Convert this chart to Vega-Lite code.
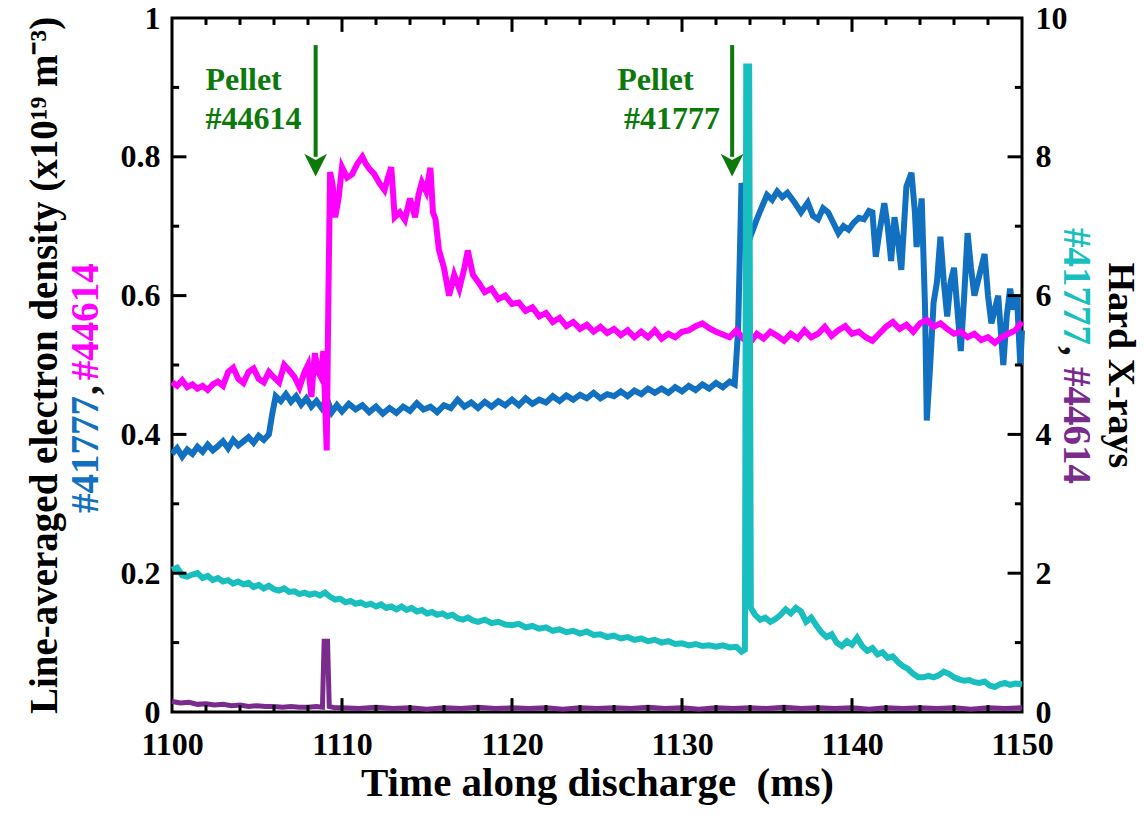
{
"$schema":"https://vega.github.io/schema/vega-lite/v6.json",
"width":850,"height":694,
"autosize":{"type":"none"},
"padding":{"left":172,"top":18,"right":123,"bottom":102},
"background":"white",
"config":{"view":{"stroke":"black","strokeWidth":3},"font":"Liberation Serif",
"axis":{"grid":false,"domain":false,"ticks":false,"tickSize":0,"labelFont":"Liberation Serif","labelFontWeight":"bold","labelFontSize":32,"labelColor":"black","titleFont":"Liberation Serif","titleFontWeight":"bold","titleColor":"black","labelFlush":false,"labelOverlap":false}},
"datasets":{
"blue":[
{"t":1100.0,"v":0.372},{"t":1100.3,"v":0.38},{"t":1100.6,"v":0.368},{"t":1100.9,"v":0.378},{"t":1101.2,"v":0.372},{"t":1101.5,"v":0.382},{"t":1101.8,"v":0.375},{"t":1102.1,"v":0.385},{"t":1102.4,"v":0.377},{"t":1102.7,"v":0.383},{"t":1103.0,"v":0.39},{"t":1103.3,"v":0.38},{"t":1103.6,"v":0.392},{"t":1103.9,"v":0.384},{"t":1104.2,"v":0.39},{"t":1104.5,"v":0.396},{"t":1104.8,"v":0.388},{"t":1105.1,"v":0.398},{"t":1105.4,"v":0.392},{"t":1105.7,"v":0.4},{"t":1105.9,"v":0.43},{"t":1106.1,"v":0.455},{"t":1106.4,"v":0.448},{"t":1106.7,"v":0.458},{"t":1107.0,"v":0.447},{"t":1107.3,"v":0.455},{"t":1107.6,"v":0.443},{"t":1107.9,"v":0.452},{"t":1108.2,"v":0.44},{"t":1108.5,"v":0.448},{"t":1108.8,"v":0.438},{"t":1109.1,"v":0.452},{"t":1109.4,"v":0.432},{"t":1109.7,"v":0.442},{"t":1110.0,"v":0.433},{"t":1110.4,"v":0.444},{"t":1110.8,"v":0.436},{"t":1111.2,"v":0.442},{"t":1111.6,"v":0.432},{"t":1112.0,"v":0.44},{"t":1112.4,"v":0.43},{"t":1112.8,"v":0.438},{"t":1113.2,"v":0.431},{"t":1113.6,"v":0.44},{"t":1114.0,"v":0.434},{"t":1114.4,"v":0.445},{"t":1114.8,"v":0.436},{"t":1115.2,"v":0.44},{"t":1115.6,"v":0.432},{"t":1116.0,"v":0.442},{"t":1116.4,"v":0.438},{"t":1116.8,"v":0.45},{"t":1117.2,"v":0.44},{"t":1117.6,"v":0.446},{"t":1118.0,"v":0.438},{"t":1118.4,"v":0.447},{"t":1118.8,"v":0.44},{"t":1119.2,"v":0.448},{"t":1119.6,"v":0.442},{"t":1120.0,"v":0.45},{"t":1120.4,"v":0.442},{"t":1120.8,"v":0.452},{"t":1121.2,"v":0.444},{"t":1121.6,"v":0.45},{"t":1122.0,"v":0.446},{"t":1122.4,"v":0.455},{"t":1122.8,"v":0.448},{"t":1123.2,"v":0.456},{"t":1123.6,"v":0.45},{"t":1124.0,"v":0.457},{"t":1124.4,"v":0.452},{"t":1124.8,"v":0.46},{"t":1125.2,"v":0.452},{"t":1125.6,"v":0.458},{"t":1126.0,"v":0.455},{"t":1126.4,"v":0.462},{"t":1126.8,"v":0.455},{"t":1127.2,"v":0.463},{"t":1127.6,"v":0.458},{"t":1128.0,"v":0.466},{"t":1128.4,"v":0.46},{"t":1128.8,"v":0.466},{"t":1129.2,"v":0.46},{"t":1129.6,"v":0.468},{"t":1130.0,"v":0.462},{"t":1130.4,"v":0.47},{"t":1130.8,"v":0.464},{"t":1131.2,"v":0.472},{"t":1131.6,"v":0.466},{"t":1132.0,"v":0.474},{"t":1132.4,"v":0.468},{"t":1132.8,"v":0.476},{"t":1133.1,"v":0.472},{"t":1133.3,"v":0.55},{"t":1133.5,"v":0.762},{"t":1133.7,"v":0.74},{"t":1133.9,"v":0.7},{"t":1134.1,"v":0.69},{"t":1134.4,"v":0.71},{"t":1134.7,"v":0.728},{"t":1135.0,"v":0.745},{"t":1135.3,"v":0.738},{"t":1135.6,"v":0.75},{"t":1135.9,"v":0.742},{"t":1136.2,"v":0.748},{"t":1136.6,"v":0.735},{"t":1137.0,"v":0.72},{"t":1137.4,"v":0.734},{"t":1137.7,"v":0.715},{"t":1138.0,"v":0.71},{"t":1138.3,"v":0.726},{"t":1138.6,"v":0.72},{"t":1138.9,"v":0.705},{"t":1139.2,"v":0.69},{"t":1139.5,"v":0.7},{"t":1139.8,"v":0.695},{"t":1140.1,"v":0.705},{"t":1140.4,"v":0.712},{"t":1140.7,"v":0.71},{"t":1141.0,"v":0.722},{"t":1141.2,"v":0.72},{"t":1141.4,"v":0.656},{"t":1141.6,"v":0.69},{"t":1141.9,"v":0.733},{"t":1142.1,"v":0.7},{"t":1142.3,"v":0.65},{"t":1142.5,"v":0.713},{"t":1142.7,"v":0.68},{"t":1142.9,"v":0.637},{"t":1143.2,"v":0.757},{"t":1143.5,"v":0.777},{"t":1143.7,"v":0.72},{"t":1143.8,"v":0.67},{"t":1144.1,"v":0.74},{"t":1144.3,"v":0.58},{"t":1144.4,"v":0.42},{"t":1144.6,"v":0.5},{"t":1144.8,"v":0.59},{"t":1145.0,"v":0.62},{"t":1145.2,"v":0.685},{"t":1145.4,"v":0.62},{"t":1145.6,"v":0.57},{"t":1145.8,"v":0.62},{"t":1146.0,"v":0.64},{"t":1146.2,"v":0.58},{"t":1146.4,"v":0.52},{"t":1146.6,"v":0.6},{"t":1146.8,"v":0.69},{"t":1147.0,"v":0.64},{"t":1147.2,"v":0.6},{"t":1147.5,"v":0.63},{"t":1147.8,"v":0.66},{"t":1148.0,"v":0.6},{"t":1148.2,"v":0.56},{"t":1148.4,"v":0.58},{"t":1148.6,"v":0.6},{"t":1148.9,"v":0.5},{"t":1149.1,"v":0.57},{"t":1149.3,"v":0.61},{"t":1149.5,"v":0.58},{"t":1149.7,"v":0.6},{"t":1149.9,"v":0.5},{"t":1150.0,"v":0.55}
],
"magenta":[
{"t":1100.0,"v":0.475},{"t":1100.3,"v":0.47},{"t":1100.6,"v":0.478},{"t":1100.9,"v":0.468},{"t":1101.2,"v":0.472},{"t":1101.5,"v":0.466},{"t":1101.8,"v":0.47},{"t":1102.1,"v":0.464},{"t":1102.4,"v":0.472},{"t":1102.7,"v":0.476},{"t":1103.0,"v":0.47},{"t":1103.3,"v":0.49},{"t":1103.6,"v":0.496},{"t":1103.9,"v":0.48},{"t":1104.2,"v":0.474},{"t":1104.5,"v":0.49},{"t":1104.8,"v":0.495},{"t":1105.1,"v":0.48},{"t":1105.4,"v":0.475},{"t":1105.7,"v":0.49},{"t":1106.0,"v":0.482},{"t":1106.3,"v":0.475},{"t":1106.6,"v":0.5},{"t":1106.9,"v":0.492},{"t":1107.2,"v":0.483},{"t":1107.5,"v":0.468},{"t":1107.8,"v":0.49},{"t":1108.0,"v":0.5},{"t":1108.2,"v":0.454},{"t":1108.4,"v":0.517},{"t":1108.6,"v":0.49},{"t":1108.75,"v":0.483},{"t":1108.9,"v":0.52},{"t":1109.0,"v":0.45},{"t":1109.1,"v":0.377},{"t":1109.2,"v":0.6},{"t":1109.3,"v":0.778},{"t":1109.45,"v":0.76},{"t":1109.6,"v":0.713},{"t":1109.8,"v":0.74},{"t":1110.0,"v":0.785},{"t":1110.3,"v":0.77},{"t":1110.6,"v":0.775},{"t":1110.9,"v":0.79},{"t":1111.2,"v":0.8},{"t":1111.4,"v":0.79},{"t":1111.6,"v":0.783},{"t":1111.9,"v":0.775},{"t":1112.2,"v":0.762},{"t":1112.5,"v":0.752},{"t":1112.7,"v":0.77},{"t":1112.9,"v":0.785},{"t":1113.1,"v":0.713},{"t":1113.4,"v":0.72},{"t":1113.7,"v":0.709},{"t":1114.0,"v":0.74},{"t":1114.3,"v":0.713},{"t":1114.5,"v":0.745},{"t":1114.7,"v":0.763},{"t":1114.95,"v":0.75},{"t":1115.2,"v":0.784},{"t":1115.35,"v":0.72},{"t":1115.5,"v":0.71},{"t":1115.7,"v":0.666},{"t":1116.0,"v":0.64},{"t":1116.3,"v":0.6},{"t":1116.6,"v":0.63},{"t":1116.9,"v":0.61},{"t":1117.2,"v":0.64},{"t":1117.4,"v":0.665},{"t":1117.7,"v":0.63},{"t":1118.0,"v":0.62},{"t":1118.4,"v":0.605},{"t":1118.8,"v":0.61},{"t":1119.2,"v":0.595},{"t":1119.6,"v":0.6},{"t":1120.0,"v":0.588},{"t":1120.4,"v":0.59},{"t":1120.8,"v":0.578},{"t":1121.2,"v":0.583},{"t":1121.6,"v":0.57},{"t":1122.0,"v":0.575},{"t":1122.4,"v":0.562},{"t":1122.8,"v":0.568},{"t":1123.2,"v":0.556},{"t":1123.6,"v":0.562},{"t":1124.0,"v":0.552},{"t":1124.4,"v":0.558},{"t":1124.8,"v":0.548},{"t":1125.2,"v":0.555},{"t":1125.6,"v":0.546},{"t":1126.0,"v":0.552},{"t":1126.4,"v":0.543},{"t":1126.8,"v":0.55},{"t":1127.2,"v":0.54},{"t":1127.6,"v":0.548},{"t":1128.0,"v":0.54},{"t":1128.4,"v":0.55},{"t":1128.8,"v":0.538},{"t":1129.2,"v":0.545},{"t":1129.6,"v":0.54},{"t":1130.0,"v":0.548},{"t":1130.4,"v":0.55},{"t":1130.8,"v":0.556},{"t":1131.2,"v":0.56},{"t":1131.6,"v":0.553},{"t":1132.0,"v":0.548},{"t":1132.4,"v":0.544},{"t":1132.8,"v":0.54},{"t":1133.2,"v":0.55},{"t":1133.6,"v":0.538},{"t":1134.0,"v":0.532},{"t":1134.4,"v":0.545},{"t":1134.8,"v":0.538},{"t":1135.2,"v":0.548},{"t":1135.6,"v":0.542},{"t":1136.0,"v":0.535},{"t":1136.4,"v":0.545},{"t":1136.8,"v":0.538},{"t":1137.2,"v":0.55},{"t":1137.6,"v":0.54},{"t":1138.0,"v":0.545},{"t":1138.4,"v":0.555},{"t":1138.8,"v":0.542},{"t":1139.2,"v":0.55},{"t":1139.6,"v":0.556},{"t":1140.0,"v":0.545},{"t":1140.4,"v":0.548},{"t":1140.8,"v":0.54},{"t":1141.2,"v":0.535},{"t":1141.6,"v":0.545},{"t":1142.0,"v":0.555},{"t":1142.4,"v":0.562},{"t":1142.8,"v":0.552},{"t":1143.2,"v":0.558},{"t":1143.6,"v":0.548},{"t":1144.0,"v":0.56},{"t":1144.4,"v":0.565},{"t":1144.8,"v":0.555},{"t":1145.2,"v":0.56},{"t":1145.6,"v":0.552},{"t":1146.0,"v":0.545},{"t":1146.4,"v":0.548},{"t":1146.8,"v":0.54},{"t":1147.2,"v":0.545},{"t":1147.6,"v":0.536},{"t":1148.0,"v":0.54},{"t":1148.4,"v":0.532},{"t":1148.8,"v":0.54},{"t":1149.2,"v":0.545},{"t":1149.6,"v":0.55},{"t":1150.0,"v":0.562}
],
"cyan":[
{"t":1100.0,"v":2.05},{"t":1100.3,"v":2.08},{"t":1100.6,"v":1.97},{"t":1100.9,"v":1.95},{"t":1101.2,"v":1.98},{"t":1101.5,"v":2.0},{"t":1101.8,"v":1.93},{"t":1102.1,"v":1.96},{"t":1102.4,"v":1.9},{"t":1102.7,"v":1.93},{"t":1103.0,"v":1.88},{"t":1103.3,"v":1.9},{"t":1103.6,"v":1.85},{"t":1103.9,"v":1.88},{"t":1104.2,"v":1.84},{"t":1104.5,"v":1.86},{"t":1104.8,"v":1.8},{"t":1105.1,"v":1.83},{"t":1105.4,"v":1.78},{"t":1105.7,"v":1.82},{"t":1106.0,"v":1.77},{"t":1106.3,"v":1.75},{"t":1106.6,"v":1.78},{"t":1106.9,"v":1.73},{"t":1107.2,"v":1.74},{"t":1107.5,"v":1.7},{"t":1107.8,"v":1.72},{"t":1108.1,"v":1.69},{"t":1108.4,"v":1.71},{"t":1108.7,"v":1.68},{"t":1109.0,"v":1.72},{"t":1109.3,"v":1.66},{"t":1109.6,"v":1.62},{"t":1109.9,"v":1.63},{"t":1110.2,"v":1.58},{"t":1110.5,"v":1.6},{"t":1110.8,"v":1.56},{"t":1111.1,"v":1.58},{"t":1111.4,"v":1.54},{"t":1111.7,"v":1.56},{"t":1112.0,"v":1.52},{"t":1112.3,"v":1.55},{"t":1112.6,"v":1.5},{"t":1112.9,"v":1.52},{"t":1113.2,"v":1.48},{"t":1113.5,"v":1.52},{"t":1113.8,"v":1.47},{"t":1114.1,"v":1.5},{"t":1114.4,"v":1.45},{"t":1114.7,"v":1.47},{"t":1115.0,"v":1.42},{"t":1115.3,"v":1.44},{"t":1115.6,"v":1.4},{"t":1115.9,"v":1.42},{"t":1116.2,"v":1.38},{"t":1116.5,"v":1.4},{"t":1116.8,"v":1.35},{"t":1117.1,"v":1.33},{"t":1117.4,"v":1.36},{"t":1117.7,"v":1.32},{"t":1118.0,"v":1.3},{"t":1118.4,"v":1.33},{"t":1118.8,"v":1.28},{"t":1119.2,"v":1.3},{"t":1119.6,"v":1.26},{"t":1120.0,"v":1.25},{"t":1120.4,"v":1.27},{"t":1120.8,"v":1.22},{"t":1121.2,"v":1.24},{"t":1121.6,"v":1.2},{"t":1122.0,"v":1.22},{"t":1122.4,"v":1.17},{"t":1122.8,"v":1.19},{"t":1123.2,"v":1.15},{"t":1123.6,"v":1.17},{"t":1124.0,"v":1.13},{"t":1124.4,"v":1.16},{"t":1124.8,"v":1.11},{"t":1125.2,"v":1.12},{"t":1125.6,"v":1.08},{"t":1126.0,"v":1.1},{"t":1126.4,"v":1.06},{"t":1126.8,"v":1.08},{"t":1127.2,"v":1.04},{"t":1127.6,"v":1.06},{"t":1128.0,"v":1.02},{"t":1128.4,"v":1.04},{"t":1128.8,"v":1.0},{"t":1129.2,"v":1.02},{"t":1129.6,"v":0.98},{"t":1130.0,"v":0.99},{"t":1130.4,"v":0.96},{"t":1130.8,"v":0.98},{"t":1131.2,"v":0.95},{"t":1131.6,"v":0.96},{"t":1132.0,"v":0.94},{"t":1132.4,"v":0.96},{"t":1132.8,"v":0.93},{"t":1133.2,"v":0.94},{"t":1133.5,"v":0.87},{"t":1133.7,"v":0.9},{"t":1133.78,"v":9.3},{"t":1133.95,"v":9.3},{"t":1134.05,"v":1.5},{"t":1134.3,"v":1.4},{"t":1134.6,"v":1.33},{"t":1134.9,"v":1.36},{"t":1135.2,"v":1.3},{"t":1135.5,"v":1.34},{"t":1135.8,"v":1.4},{"t":1136.1,"v":1.48},{"t":1136.4,"v":1.42},{"t":1136.7,"v":1.5},{"t":1137.0,"v":1.45},{"t":1137.3,"v":1.3},{"t":1137.6,"v":1.36},{"t":1137.9,"v":1.25},{"t":1138.2,"v":1.15},{"t":1138.5,"v":1.08},{"t":1138.8,"v":1.12},{"t":1139.1,"v":1.0},{"t":1139.4,"v":0.95},{"t":1139.7,"v":1.02},{"t":1140.0,"v":0.97},{"t":1140.3,"v":1.07},{"t":1140.6,"v":0.95},{"t":1140.9,"v":0.88},{"t":1141.2,"v":0.92},{"t":1141.5,"v":0.83},{"t":1141.8,"v":0.86},{"t":1142.1,"v":0.78},{"t":1142.4,"v":0.8},{"t":1142.7,"v":0.72},{"t":1143.0,"v":0.66},{"t":1143.3,"v":0.62},{"t":1143.6,"v":0.55},{"t":1143.9,"v":0.5},{"t":1144.2,"v":0.5},{"t":1144.5,"v":0.52},{"t":1144.8,"v":0.5},{"t":1145.1,"v":0.53},{"t":1145.4,"v":0.58},{"t":1145.7,"v":0.55},{"t":1146.0,"v":0.5},{"t":1146.3,"v":0.47},{"t":1146.6,"v":0.45},{"t":1146.9,"v":0.46},{"t":1147.2,"v":0.43},{"t":1147.5,"v":0.42},{"t":1147.8,"v":0.44},{"t":1148.1,"v":0.38},{"t":1148.4,"v":0.36},{"t":1148.7,"v":0.4},{"t":1149.0,"v":0.42},{"t":1149.3,"v":0.39},{"t":1149.6,"v":0.41},{"t":1150.0,"v":0.4}
],
"purple":[
{"t":1100.0,"v":0.15},{"t":1100.5,"v":0.13},{"t":1101.0,"v":0.14},{"t":1101.5,"v":0.11},{"t":1102.0,"v":0.12},{"t":1102.5,"v":0.1},{"t":1103.0,"v":0.11},{"t":1103.5,"v":0.09},{"t":1104.0,"v":0.1},{"t":1104.5,"v":0.08},{"t":1105.0,"v":0.09},{"t":1105.5,"v":0.08},{"t":1106.0,"v":0.08},{"t":1106.5,"v":0.07},{"t":1107.0,"v":0.08},{"t":1107.5,"v":0.07},{"t":1108.0,"v":0.07},{"t":1108.5,"v":0.08},{"t":1108.85,"v":0.07},{"t":1108.95,"v":1.02},{"t":1109.15,"v":1.02},{"t":1109.25,"v":0.08},{"t":1109.6,"v":0.06},{"t":1110,"v":0.06},{"t":1111,"v":0.05},{"t":1112,"v":0.07},{"t":1113,"v":0.05},{"t":1114,"v":0.06},{"t":1115,"v":0.04},{"t":1116,"v":0.06},{"t":1117,"v":0.05},{"t":1118,"v":0.07},{"t":1119,"v":0.05},{"t":1120,"v":0.06},{"t":1121,"v":0.05},{"t":1122,"v":0.06},{"t":1123,"v":0.04},{"t":1124,"v":0.06},{"t":1125,"v":0.05},{"t":1126,"v":0.06},{"t":1127,"v":0.05},{"t":1128,"v":0.07},{"t":1129,"v":0.05},{"t":1130,"v":0.06},{"t":1131,"v":0.04},{"t":1132,"v":0.06},{"t":1133,"v":0.05},{"t":1134,"v":0.06},{"t":1135,"v":0.05},{"t":1136,"v":0.07},{"t":1137,"v":0.05},{"t":1138,"v":0.06},{"t":1139,"v":0.05},{"t":1140,"v":0.06},{"t":1141,"v":0.04},{"t":1142,"v":0.06},{"t":1143,"v":0.05},{"t":1144,"v":0.06},{"t":1145,"v":0.05},{"t":1146,"v":0.06},{"t":1147,"v":0.04},{"t":1148,"v":0.06},{"t":1149,"v":0.05},{"t":1150,"v":0.06}
],
"xticks":[
{"t":1110,"a":0,"b":0.02},{"t":1120,"a":0,"b":0.02},{"t":1130,"a":0,"b":0.02},{"t":1140,"a":0,"b":0.02},
{"t":1110,"a":1,"b":0.98},{"t":1120,"a":1,"b":0.98},{"t":1130,"a":1,"b":0.98},{"t":1140,"a":1,"b":0.98},
{"t":1102,"a":0,"b":0.01},{"t":1104,"a":0,"b":0.01},{"t":1106,"a":0,"b":0.01},{"t":1108,"a":0,"b":0.01},{"t":1112,"a":0,"b":0.01},{"t":1114,"a":0,"b":0.01},{"t":1116,"a":0,"b":0.01},{"t":1118,"a":0,"b":0.01},{"t":1122,"a":0,"b":0.01},{"t":1124,"a":0,"b":0.01},{"t":1126,"a":0,"b":0.01},{"t":1128,"a":0,"b":0.01},{"t":1132,"a":0,"b":0.01},{"t":1134,"a":0,"b":0.01},{"t":1136,"a":0,"b":0.01},{"t":1138,"a":0,"b":0.01},{"t":1142,"a":0,"b":0.01},{"t":1144,"a":0,"b":0.01},{"t":1146,"a":0,"b":0.01},{"t":1148,"a":0,"b":0.01},
{"t":1102,"a":1,"b":0.99},{"t":1104,"a":1,"b":0.99},{"t":1106,"a":1,"b":0.99},{"t":1108,"a":1,"b":0.99},{"t":1112,"a":1,"b":0.99},{"t":1114,"a":1,"b":0.99},{"t":1116,"a":1,"b":0.99},{"t":1118,"a":1,"b":0.99},{"t":1122,"a":1,"b":0.99},{"t":1124,"a":1,"b":0.99},{"t":1126,"a":1,"b":0.99},{"t":1128,"a":1,"b":0.99},{"t":1132,"a":1,"b":0.99},{"t":1134,"a":1,"b":0.99},{"t":1136,"a":1,"b":0.99},{"t":1138,"a":1,"b":0.99},{"t":1142,"a":1,"b":0.99},{"t":1144,"a":1,"b":0.99},{"t":1146,"a":1,"b":0.99},{"t":1148,"a":1,"b":0.99}
],
"yticks":[
{"v":0.2,"a":1100,"b":1100.85},{"v":0.4,"a":1100,"b":1100.85},{"v":0.6,"a":1100,"b":1100.85},{"v":0.8,"a":1100,"b":1100.85},
{"v":0.2,"a":1150,"b":1149.15},{"v":0.4,"a":1150,"b":1149.15},{"v":0.6,"a":1150,"b":1149.15},{"v":0.8,"a":1150,"b":1149.15},
{"v":0.1,"a":1100,"b":1100.42},{"v":0.3,"a":1100,"b":1100.42},{"v":0.5,"a":1100,"b":1100.42},{"v":0.7,"a":1100,"b":1100.42},{"v":0.9,"a":1100,"b":1100.42},
{"v":0.1,"a":1150,"b":1149.58},{"v":0.3,"a":1150,"b":1149.58},{"v":0.5,"a":1150,"b":1149.58},{"v":0.7,"a":1150,"b":1149.58},{"v":0.9,"a":1150,"b":1149.58}
],
"arrows":[{"t":1108.45,"y1":0.961,"y2":0.8},{"t":1132.95,"y1":0.961,"y2":0.8}],
"heads":[{"t":1108.45,"y":0.788},{"t":1132.95,"y":0.788}],
"notes":[{"t":1104.21,"y":0.91,"label":"Pellet"},{"t":1104.79,"y":0.855,"label":"#44614"},{"t":1128.44,"y":0.91,"label":"Pellet"},{"t":1129.41,"y":0.855,"label":"#41777"}],
"leftsub":[{"t":1094.94,"y":0.2867,"label":"#41777","c":"#1170C0"},{"t":1094.94,"y":0.4568,"label":",","c":"#111111"},{"t":1094.94,"y":0.478,"label":"#44614","c":"#FF00FF"}],
"rightsub":[{"t":1153.18,"y":0.6974,"label":"#41777","c":"#19BFBF"},{"t":1153.18,"y":0.5274,"label":",","c":"#111111"},{"t":1153.18,"y":0.4971,"label":"#44614","c":"#7A2C8C"}]
},
"layer":[
{"data":{"name":"blue"},"mark":{"type":"line","color":"#1170C0","strokeWidth":6},
"encoding":{
"x":{"field":"t","type":"quantitative","scale":{"domain":[1100,1150],"nice":false,"zero":false},
"axis":{"orient":"bottom","values":[1100,1110,1120,1130,1140,1150],"format":"d","labelPadding":17,"title":"Time along discharge\u00a0\u00a0(ms)","titleFontSize":41,"titlePadding":3}},
"y":{"field":"v","type":"quantitative","scale":{"domain":[0,1],"nice":false,"zero":false},
"axis":{"orient":"left","values":[0,0.2,0.4,0.6,0.8,1],"format":"~g","labelPadding":12,"title":"Line-averaged electron density (x10¹⁹ m⁻³)","titleFontSize":39,"titlePadding":56}}}},
{"data":{"name":"magenta"},"mark":{"type":"line","color":"#FF00FF","strokeWidth":6},
"encoding":{
"x":{"field":"t","type":"quantitative","scale":{"domain":[1100,1150],"nice":false,"zero":false},"axis":null},
"y":{"field":"v","type":"quantitative","scale":{"domain":[0,1],"nice":false,"zero":false},"axis":null}}},
{"data":{"name":"cyan"},"mark":{"type":"line","color":"#19BFBF","strokeWidth":6},
"encoding":{
"x":{"field":"t","type":"quantitative","scale":{"domain":[1100,1150],"nice":false,"zero":false},"axis":null},
"y":{"field":"v","type":"quantitative","scale":{"domain":[0,10],"nice":false,"zero":false},
"axis":{"orient":"right","values":[0,2,4,6,8,10],"format":"d","labelPadding":13,"title":"Hard X-rays","titleFontSize":38,"titleAngle":90,"titlePadding":33}}}},
{"data":{"name":"purple"},"mark":{"type":"line","color":"#7A2C8C","strokeWidth":5},
"encoding":{
"x":{"field":"t","type":"quantitative","scale":{"domain":[1100,1150],"nice":false,"zero":false},"axis":null},
"y":{"field":"v","type":"quantitative","scale":{"domain":[0,10],"nice":false,"zero":false},"axis":null}}},
{"data":{"name":"arrows"},"mark":{"type":"rule","color":"#0B7A0B","strokeWidth":4},
"encoding":{
"x":{"field":"t","type":"quantitative","scale":{"domain":[1100,1150],"nice":false,"zero":false},"axis":null},
"y":{"field":"y1","type":"quantitative","scale":{"domain":[0,1],"nice":false,"zero":false},"axis":null},
"y2":{"field":"y2"}}},
{"data":{"name":"heads"},"mark":{"type":"point","shape":"M-1,-1L0,1L1,-1L0,-0.45Z","filled":true,"size":520,"color":"#0B7A0B","opacity":1},
"encoding":{
"x":{"field":"t","type":"quantitative","scale":{"domain":[1100,1150],"nice":false,"zero":false},"axis":null},
"y":{"field":"y","type":"quantitative","scale":{"domain":[0,1],"nice":false,"zero":false},"axis":null}}},
{"data":{"name":"notes"},"mark":{"type":"text","color":"#0B7A0B","font":"Liberation Serif","fontWeight":"bold","fontSize":32,"align":"center","baseline":"middle"},
"encoding":{
"x":{"field":"t","type":"quantitative","scale":{"domain":[1100,1150],"nice":false,"zero":false},"axis":null},
"y":{"field":"y","type":"quantitative","scale":{"domain":[0,1],"nice":false,"zero":false},"axis":null},
"text":{"field":"label"}}},
{"data":{"name":"leftsub"},"mark":{"type":"text","font":"Liberation Serif","fontWeight":"bold","fontSize":39,"align":"left","baseline":"middle","angle":270},
"encoding":{
"x":{"field":"t","type":"quantitative","scale":{"domain":[1100,1150],"nice":false,"zero":false},"axis":null},
"y":{"field":"y","type":"quantitative","scale":{"domain":[0,1],"nice":false,"zero":false},"axis":null},
"color":{"field":"c","type":"nominal","scale":null},
"text":{"field":"label"}}},
{"data":{"name":"rightsub"},"mark":{"type":"text","font":"Liberation Serif","fontWeight":"bold","fontSize":39,"align":"left","baseline":"middle","angle":90},
"encoding":{
"x":{"field":"t","type":"quantitative","scale":{"domain":[1100,1150],"nice":false,"zero":false},"axis":null},
"y":{"field":"y","type":"quantitative","scale":{"domain":[0,1],"nice":false,"zero":false},"axis":null},
"color":{"field":"c","type":"nominal","scale":null},
"text":{"field":"label"}}},
{"data":{"name":"xticks"},"mark":{"type":"rule","color":"#000000","strokeWidth":3},
"encoding":{
"x":{"field":"t","type":"quantitative","scale":{"domain":[1100,1150],"nice":false,"zero":false},"axis":null},
"y":{"field":"a","type":"quantitative","scale":{"domain":[0,1],"nice":false,"zero":false},"axis":null},
"y2":{"field":"b"}}},
{"data":{"name":"yticks"},"mark":{"type":"rule","color":"#000000","strokeWidth":3},
"encoding":{
"x":{"field":"a","type":"quantitative","scale":{"domain":[1100,1150],"nice":false,"zero":false},"axis":null},
"x2":{"field":"b"},
"y":{"field":"v","type":"quantitative","scale":{"domain":[0,1],"nice":false,"zero":false},"axis":null}}}
],
"resolve":{"scale":{"y":"independent"},"axis":{"x":"independent","y":"independent"}}
}
